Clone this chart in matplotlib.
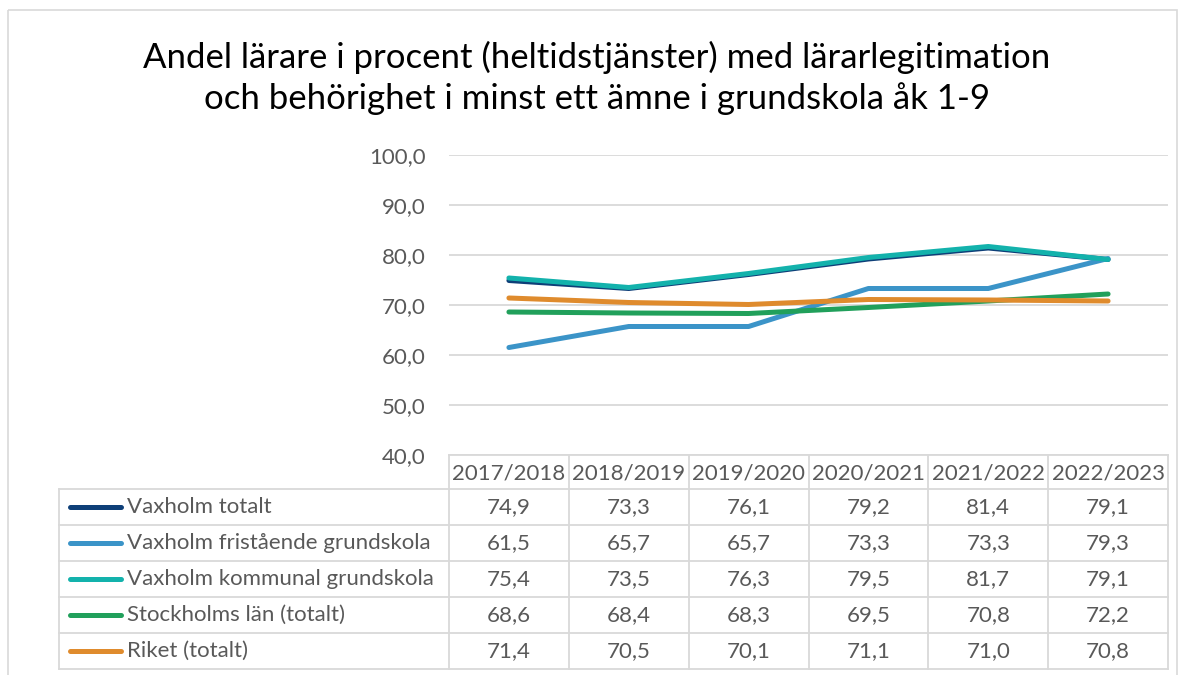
import matplotlib
matplotlib.use("Agg")
import matplotlib.pyplot as plt
from matplotlib.patches import Rectangle

plt.rcParams['font.family'] = ['Lato', 'DejaVu Sans']

title = "Andel lärare i procent (heltidstjänster) med lärarlegitimation\noch behörighet i minst ett ämne i grundskola åk 1-9"
years = ["2017/2018", "2018/2019", "2019/2020", "2020/2021", "2021/2022", "2022/2023"]
series_names = ["Vaxholm totalt", "Vaxholm fristående grundskola", "Vaxholm kommunal grundskola",
                "Stockholms län (totalt)", "Riket (totalt)"]
vaxholm_totalt = [74.9, 73.3, 76.1, 79.2, 81.4, 79.1]
vaxholm_fristaende = [61.5, 65.7, 65.7, 73.3, 73.3, 79.3]
vaxholm_kommunal = [75.4, 73.5, 76.3, 79.5, 81.7, 79.1]
stockholms_lan = [68.6, 68.4, 68.3, 69.5, 70.8, 72.2]
riket = [71.4, 70.5, 70.1, 71.1, 71.0, 70.8]
series_values = [vaxholm_totalt, vaxholm_fristaende, vaxholm_kommunal, stockholms_lan, riket]
colors = ["#0e3f78", "#3b94c8", "#13b2ac", "#21a05b", "#df8b2d"]
yticks = [40, 50, 60, 70, 80, 90, 100]

W, H = 1181, 675
fig = plt.figure(figsize=(W / 100, H / 100), dpi=100)

grid_c = "#d9d9d9"
text_c = "#595959"
fs = 16

# overlay axes in pixel coordinates for frame/table
ov = fig.add_axes([0, 0, 1, 1])
ov.set_xlim(0, W)
ov.set_ylim(H, 0)
ov.axis("off")
ov.add_patch(Rectangle((8, 10), 1169, 700, fill=False, edgecolor=grid_c, lw=1.2))

fig.text(597 / W, 1 - 78 / H, title, ha="center", va="center", fontsize=25,
         color="black", linespacing=1.3)

# plot axes
left, right, top, bottom = 449, 1168, 155, 455
ax = fig.add_axes([left / W, 1 - bottom / H, (right - left) / W, (bottom - top) / H])
x = list(range(len(years)))
for vals, c in zip(series_values, colors):
    ax.plot(x, vals, color=c, lw=3.6, solid_capstyle="round", solid_joinstyle="round", zorder=3)
ax.set_xlim(-0.5, len(years) - 0.5)
ax.set_ylim(40, 100)
ax.set_yticks(yticks)
ax.set_yticklabels([f"{v:.1f}".replace(".", ",") for v in yticks], fontsize=fs, color=text_c)
ax.tick_params(axis="y", length=0, pad=17)
ax.set_xticks([])
ax.grid(axis="y", color=grid_c, lw=1.3)
for s in ax.spines.values():
    s.set_visible(False)
ax.set_facecolor("none")

# table
col_w = (right - left) / len(years)
row_h = 36
hdr_top = 455
tab_left = 59
rows_top = hdr_top + 34
lw_t = 1.3
n_rows = len(series_names)
tab_bottom = rows_top + n_rows * row_h
ov.plot([left, right], [hdr_top, hdr_top], color=grid_c, lw=lw_t)
for i in range(len(years) + 1):
    xx = left + i * col_w
    ov.plot([xx, xx], [hdr_top, tab_bottom], color=grid_c, lw=lw_t)
for j in range(n_rows + 1):
    yy = rows_top + j * row_h
    ov.plot([tab_left, right], [yy, yy], color=grid_c, lw=lw_t)
ov.plot([tab_left, tab_left], [rows_top, tab_bottom], color=grid_c, lw=lw_t)

for i, yr in enumerate(years):
    ov.text(left + (i + 0.5) * col_w, (hdr_top + rows_top) / 2 + 1, yr, ha="center", va="center",
            fontsize=fs, color=text_c)
for j, (name, vals, c) in enumerate(zip(series_names, series_values, colors)):
    yc = rows_top + (j + 0.5) * row_h
    ov.plot([70, 121], [yc, yc], color=c, lw=3.6, solid_capstyle="round")
    ov.text(127, yc, name, ha="left", va="center", fontsize=fs, color=text_c)
    for i, v in enumerate(vals):
        ov.text(left + (i + 0.5) * col_w, yc, f"{v:.1f}".replace(".", ","), ha="center",
                va="center", fontsize=fs, color=text_c)

fig.savefig("out.png", dpi=100)
